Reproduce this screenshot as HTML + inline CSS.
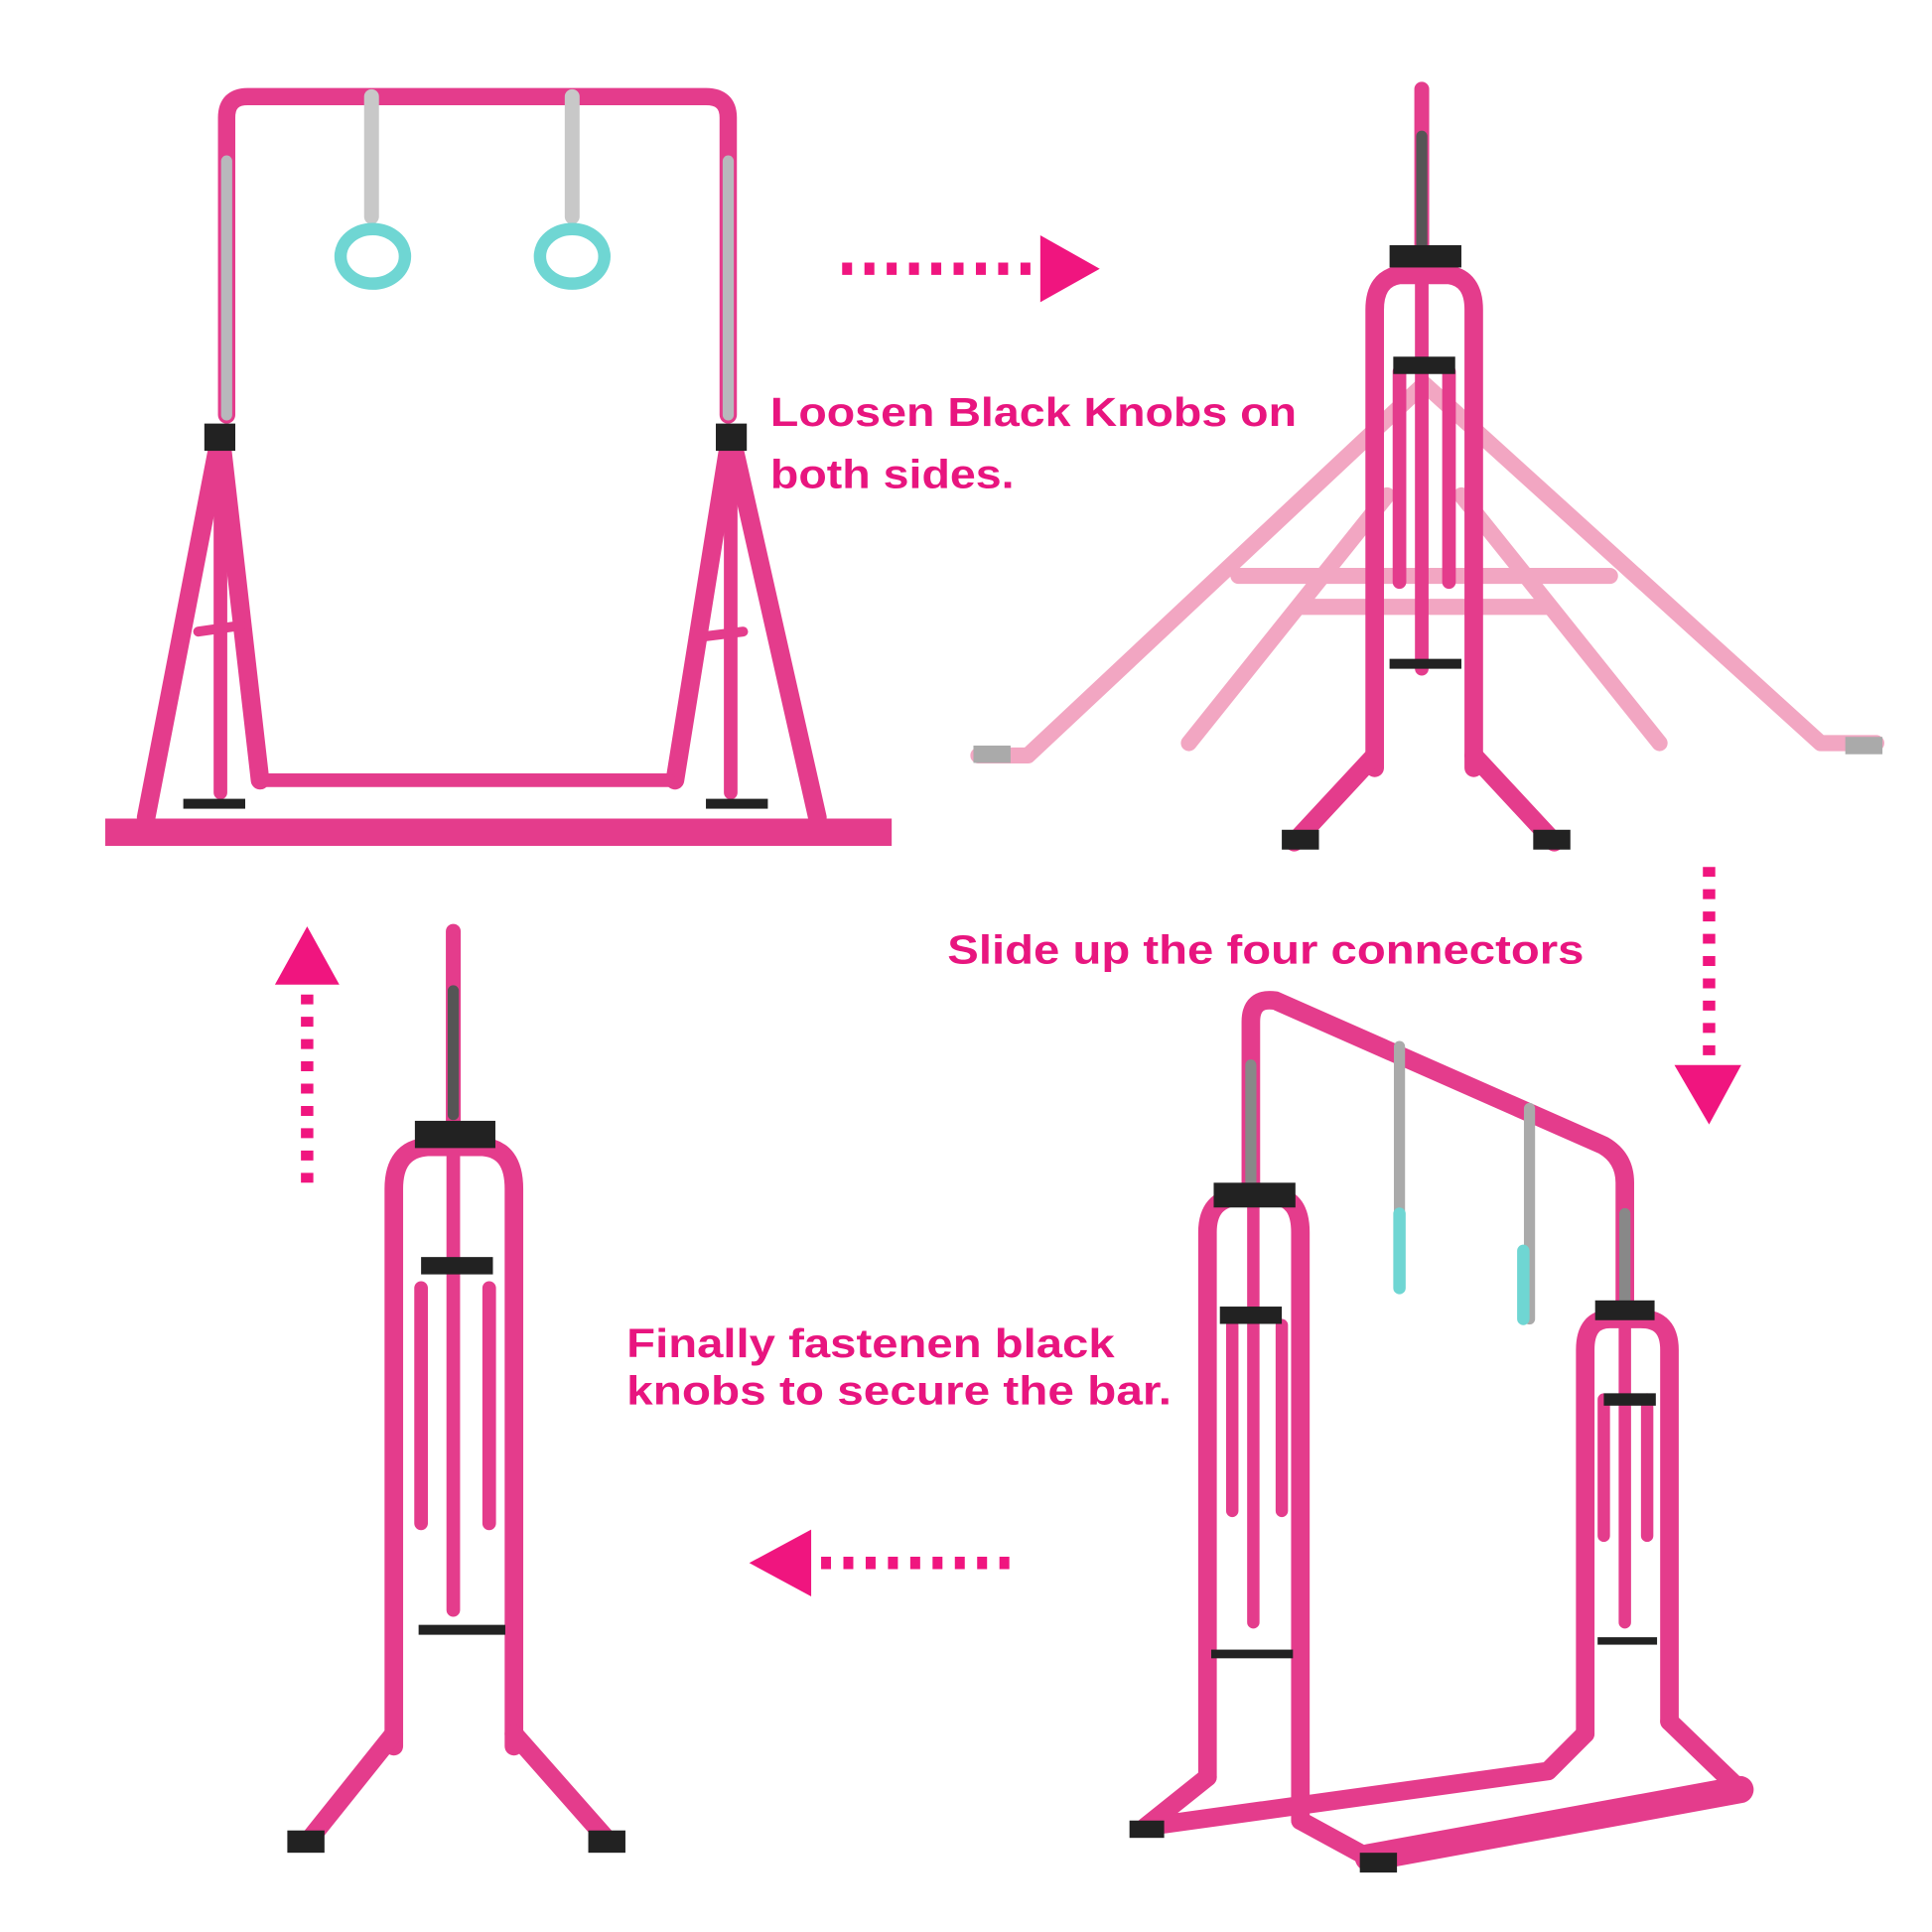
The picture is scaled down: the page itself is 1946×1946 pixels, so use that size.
<!DOCTYPE html>
<html><head><meta charset="utf-8"><style>
html,body{margin:0;padding:0;background:#fff}
svg{display:block}
text{font-family:"Liberation Sans",sans-serif;font-weight:bold;fill:#e8157f}
</style></head><body>
<svg width="1946" height="1946" viewBox="0 0 1560 1560" xmlns="http://www.w3.org/2000/svg">
<g fill="none" stroke-linecap="round" stroke-linejoin="round">
<path d="M183 335 V95 Q183 78 200 78 H570 Q588 78 588 95 V335" stroke="#e43c8c" stroke-width="14"/>
<path d="M183 130 V335 M588 130 V335" stroke="#b8b8bc" stroke-width="9"/>
<path d="M178 350 L118 660 M178 350 L210 630 M590 350 L660 660 M590 350 L545 630" stroke="#e43c8c" stroke-width="15"/>
<path d="M178 350 V640 M590 350 V640" stroke="#e43c8c" stroke-width="11"/>
<path d="M213 630 H540" stroke="#e43c8c" stroke-width="11"/>
<path d="M85 672 H720" stroke="#e43c8c" stroke-width="22" stroke-linecap="butt"/>
<path d="M160 510 L195 505 M560 515 L600 510" stroke="#e43c8c" stroke-width="8"/>
<rect x="148" y="645" width="50" height="8" fill="#222"/><rect x="570" y="645" width="50" height="8" fill="#222"/>
<rect x="165" y="342" width="25" height="22" fill="#222"/><rect x="578" y="342" width="25" height="22" fill="#222"/>
<path d="M300 78 V175 M462 78 V175" stroke="#c8c8c8" stroke-width="12"/>
<ellipse cx="301" cy="207" rx="26" ry="22" stroke="#6fd6d3" stroke-width="10"/>
<ellipse cx="462" cy="207" rx="26" ry="22" stroke="#6fd6d3" stroke-width="10"/>
<path d="M1150 310 L830 610 L790 610 M1150 310 L1470 600 L1515 600 M1120 400 L960 600 M1180 400 L1340 600 M1000 465 H1300 M1050 490 H1250" stroke="#f2a6c2" stroke-width="13"/>
<rect x="786" y="602" width="30" height="14" fill="#aaa"/><rect x="1490" y="595" width="30" height="14" fill="#aaa"/>
<path d="M1148 72 V210" stroke="#e43c8c" stroke-width="12"/>
<path d="M1148 110 V200" stroke="#555" stroke-width="9"/>
<path d="M1110 620 V250 Q1110 225 1130 222 H1170 Q1190 225 1190 250 V620" stroke="#e43c8c" stroke-width="15"/>
<path d="M1148 210 V540 M1130 300 V470 M1170 300 V470" stroke="#e43c8c" stroke-width="11"/>
<path d="M1110 610 L1045 680 M1190 610 L1255 680" stroke="#e43c8c" stroke-width="15"/>
<rect x="1122" y="198" width="58" height="18" fill="#222"/><rect x="1125" y="288" width="50" height="14" fill="#222"/>
<rect x="1122" y="532" width="58" height="8" fill="#222"/>
<rect x="1035" y="670" width="30" height="16" fill="#222"/><rect x="1238" y="670" width="30" height="16" fill="#222"/>
<path d="M366 752 V910" stroke="#e43c8c" stroke-width="12"/>
<path d="M366 800 V900" stroke="#555" stroke-width="9"/>
<path d="M318 1410 V960 Q318 928 345 926 H390 Q415 928 415 960 V1410" stroke="#e43c8c" stroke-width="15"/>
<path d="M366 910 V1300 M340 1040 V1230 M395 1040 V1230" stroke="#e43c8c" stroke-width="11"/>
<path d="M318 1400 L250 1485 M415 1400 L490 1485" stroke="#e43c8c" stroke-width="15"/>
<rect x="335" y="905" width="65" height="22" fill="#222"/><rect x="340" y="1015" width="58" height="14" fill="#222"/>
<rect x="338" y="1312" width="70" height="8" fill="#222"/>
<rect x="232" y="1478" width="30" height="18" fill="#222"/><rect x="475" y="1478" width="30" height="18" fill="#222"/>
<path d="M1010 960 V825 Q1010 805 1030 808 L1295 925 Q1312 935 1312 955 V1060" stroke="#e43c8c" stroke-width="15"/>
<path d="M1010 860 V960 M1312 980 V1055" stroke="#888" stroke-width="9"/>
<path d="M975 1435 V995 Q975 968 1000 966 H1030 Q1050 968 1050 995 V1470 M1280 1400 V1090 Q1280 1065 1300 1065 H1325 Q1348 1065 1348 1090 V1390" stroke="#e43c8c" stroke-width="15"/>
<path d="M1012 966 V1310 M1312 1065 V1310 M995 1070 V1220 M1035 1070 V1220 M1295 1130 V1240 M1330 1130 V1240" stroke="#e43c8c" stroke-width="10"/>
<path d="M975 1435 L925 1475 L1250 1430 L1280 1400 M1050 1470 L1105 1500 L1405 1445 L1348 1390" stroke="#e43c8c" stroke-width="15"/>
<path d="M1105 1500 L1405 1445" stroke="#e43c8c" stroke-width="22"/>
<path d="M1130 845 V1040 M1235 895 V1065" stroke="#aaa" stroke-width="9"/>
<path d="M1130 980 V1040 M1230 1010 V1065" stroke="#6fd6d3" stroke-width="10"/>
<rect x="980" y="955" width="66" height="20" fill="#222"/><rect x="985" y="1055" width="50" height="14" fill="#222"/>
<rect x="1288" y="1050" width="48" height="16" fill="#222"/><rect x="1295" y="1125" width="42" height="10" fill="#222"/>
<rect x="978" y="1332" width="66" height="7" fill="#222"/><rect x="1290" y="1322" width="48" height="6" fill="#222"/>
<rect x="912" y="1470" width="28" height="14" fill="#222"/><rect x="1098" y="1496" width="30" height="16" fill="#222"/>
<path d="M680 217 H840" stroke="#f0157f" stroke-width="10" stroke-dasharray="8 10" stroke-linecap="butt"/>
<path d="M1380 700 V862" stroke="#f0157f" stroke-width="10" stroke-dasharray="8 10" stroke-linecap="butt"/>
<path d="M248 955 V795" stroke="#f0157f" stroke-width="10" stroke-dasharray="8 10" stroke-linecap="butt"/>
<path d="M815 1262 H655" stroke="#f0157f" stroke-width="10" stroke-dasharray="8 10" stroke-linecap="butt"/>
</g>
<g fill="#f0157f">
<polygon points="840,190 888,217 840,244"/>
<polygon points="1352,860 1406,860 1380,908"/>
<polygon points="222,795 274,795 248,748"/>
<polygon points="655,1235 655,1289 605,1262"/>
</g>
<text x="622" y="344" font-size="33" textLength="425" lengthAdjust="spacingAndGlyphs">Loosen Black Knobs on</text>
<text x="622" y="394" font-size="33" textLength="197" lengthAdjust="spacingAndGlyphs">both sides.</text>
<text x="765" y="778" font-size="33" textLength="514" lengthAdjust="spacingAndGlyphs">Slide up the four connectors</text>
<text x="506" y="1096" font-size="33" textLength="394" lengthAdjust="spacingAndGlyphs">Finally fastenen black</text>
<text x="506" y="1134" font-size="33" textLength="440" lengthAdjust="spacingAndGlyphs">knobs to secure the bar.</text>
</svg>
</body></html>
